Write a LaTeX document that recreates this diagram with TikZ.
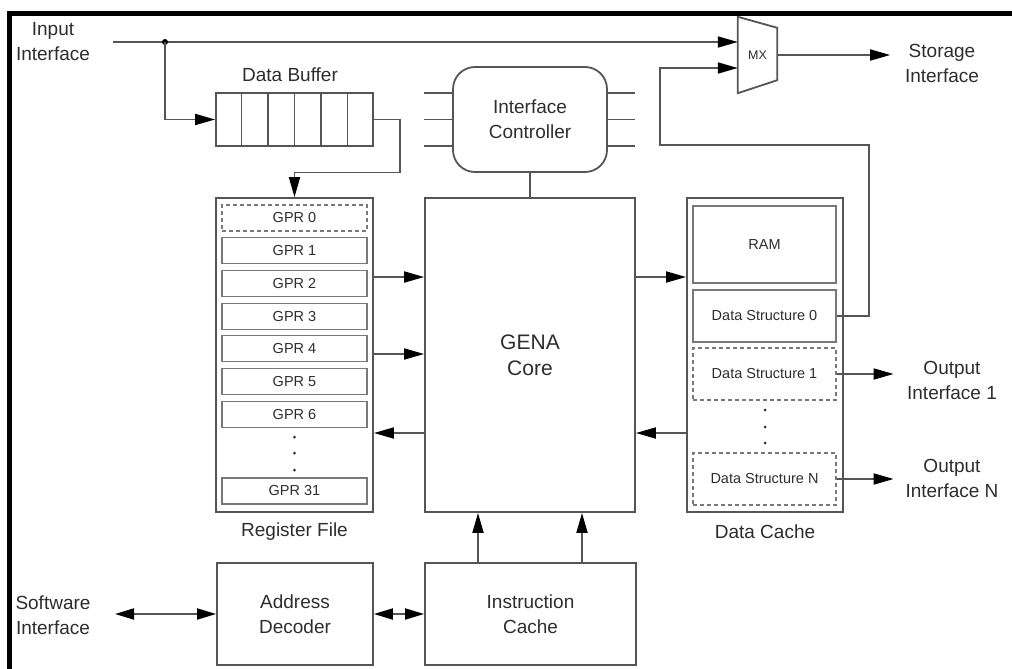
\documentclass[tikz,border=0pt]{standalone}
\usepackage{fontspec}
\setmainfont{Liberation Sans}
\usepackage{tikz}
\usetikzlibrary{arrows.meta,positioning,calc}
\usepackage{xcolor}
\definecolor{linegray}{RGB}{85,85,85}
\definecolor{boxgray}{RGB}{120,120,120}
\definecolor{textgray}{RGB}{45,45,45}
\tikzset{
  blk/.style={draw=linegray, line width=1.8pt, inner sep=0pt},
  reg/.style={draw=boxgray, line width=1.2pt, minimum width=145, minimum height=26, inner sep=0pt, text=textgray, font=\fontsize{14.5}{17}\selectfont},
  dreg/.style={reg, dash pattern=on 4pt off 3pt},
  lbl/.style={font=\fontsize{19}{25}\selectfont, align=center, text=textgray},
  wire/.style={draw=linegray, line width=1.8pt},
  arr/.style={wire, -{Triangle[length=20pt,width=11pt,color=black]}},
  darr/.style={wire, {Triangle[length=19pt,width=11pt,color=black]}-{Triangle[length=19pt,width=11pt,color=black]}},
}

\begin{document}
\begin{tikzpicture}[x=1pt,y=-1pt]
    \useasboundingbox (0,0) rectangle (1012,669);
    \fill (7,11) rectangle (1012,16);
    \fill (7,11) rectangle (12,669);

    \node[lbl] (inif) at (53,42) {Input\\Interface};
    \coordinate (inA) at (113,42);
    \coordinate (jn) at (165,42);

    \node[blk, minimum width=157, minimum height=53] (buf) at (294.5,119.5) {};
    \foreach \i in {1,...,5}
        \draw[draw=linegray, line width=1.2pt] ($(buf.north west)!\i/6!(buf.north east)$) -- ($(buf.south west)!\i/6!(buf.south east)$);
    \node[lbl] (buflbl) at (290,75) {Data Buffer};

    \node[blk, minimum width=157, minimum height=314] (rf) at (294.5,355) {};
    \node[dreg] (gpr0) at (294.5,218) {GPR 0};
    \foreach \i/\y in {1/250.7,2/283.4,3/316.1,4/348.8,5/381.5,6/414.2,31/491}
        \node[reg] (gpr\i) at (294.5,\y) {GPR \i};
    \foreach \y in {437,453,470}
        \fill[textgray] (294.5,\y) circle (1.5);
    \node[lbl] (rflbl) at (294.5,532) {Register File};

    \node[blk, minimum width=210, minimum height=314, align=center, text=textgray, font=\fontsize{21}{26}\selectfont] (core) at (530,355) {GENA\\Core};

    \node[lbl, blk, rounded corners=22, minimum width=154, minimum height=105] (ctrl) at (530,119.5) {Interface\\Controller};
    \foreach \y in {93,119.5,146} {
        \draw[wire] (ctrl.west |- 0,\y) -- ++(-28,0);
        \draw[wire] (ctrl.east |- 0,\y) -- ++(27,0);
    }
    \draw[wire] (ctrl) -- (core);

    \node[blk, minimum width=156, minimum height=314] (dc) at (765,355) {};
    \node[reg, minimum width=143, minimum height=77] (ram) at (764.5,244.5) {RAM};
    \node[reg, minimum width=143, minimum height=52] (ds0) at (764.5,316) {Data Structure 0};
    \node[dreg, minimum width=143, minimum height=52] (ds1) at (764.5,374) {Data Structure 1};
    \foreach \y in {410,427,443}
        \fill[textgray] (765,\y) circle (1.5);
    \node[dreg, minimum width=143, minimum height=52] (dsN) at (764.5,479) {Data Structure N};
    \node[lbl] (dclbl) at (765,532) {Data Cache};

    \node[font=\fontsize{12.5}{14}\selectfont, text=textgray, minimum width=39, minimum height=76, inner sep=0pt] (mx) at (757.5,55) {MX};
    \draw[wire] (mx.north west) -- ($(mx.north east)+(0,11)$) -- ($(mx.south east)+(0,-13)$) -- (mx.south west) -- cycle;
    \node[lbl] (stor) at (942,63) {Storage\\Interface};

    \draw[arr] (inA) -- (mx.west |- inA);
    \fill[black] (jn) circle (3);
    \draw[arr] (jn) |- (buf.west);
    \draw[arr] (buf.east) -- ++(26,0) -- ++(0,53) -| (rf.north);
    \draw[arr] (ds0.east) -| (869,145) -| (660,68) -- (mx.west |- 0,68);
    \draw[arr] (mx.east) -- ++(113,0);

    \node[lbl] (out1) at (952,380) {Output\\Interface 1};
    \node[lbl] (outN) at (952,478) {Output\\Interface N};
    \draw[arr] (ds1.east) -- ++(57,0);
    \draw[arr] (dsN.east) -- ++(57,0);

    \draw[arr] (rf.east |- 0,277) -- (core.west |- 0,277);
    \draw[arr] (rf.east |- 0,354) -- (core.west |- 0,354);
    \draw[arr] (core.west |- 0,433) -- (rf.east |- 0,433);
    \draw[arr] (core.east |- 0,277) -- (dc.west |- 0,277);
    \draw[arr] (dc.west |- 0,433) -- (core.east |- 0,433);

    \node[lbl, blk, minimum width=156, minimum height=102] (addr) at (295,614) {Address\\Decoder};
    \node[lbl, blk, minimum width=211, minimum height=102] (icache) at (530.5,614) {Instruction\\Cache};
    \node[lbl] (swif) at (53,615) {Software\\Interface};
    \coordinate (swA) at (115,614);
    \draw[darr] (swA) -- (addr.west);
    \draw[darr] (addr) -- (icache);
    \draw[arr] (icache.north -| 478,0) -- (core.south -| 478,0);
    \draw[arr] (icache.north -| 582,0) -- (core.south -| 582,0);
\end{tikzpicture}
\end{document}
